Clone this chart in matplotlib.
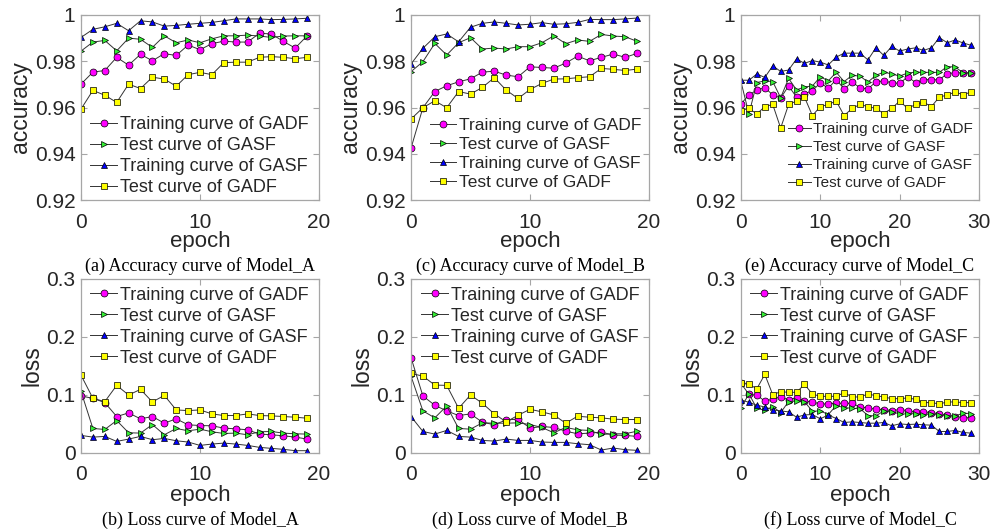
import matplotlib
matplotlib.use("Agg")
import matplotlib.pyplot as plt
import numpy as np

# ---------------- data ----------------
labels = ["Training curve of GADF", "Test curve of GASF",
          "Training curve of GASF", "Test curve of GADF"]

# Model A accuracy (20 epochs)
a_train_gadf = [0.9701,0.9753,0.9760,0.9817,0.9783,0.9830,0.9802,0.9833,0.9825,0.9870,0.9850,0.9876,0.9887,0.9883,0.9883,0.9921,0.9918,0.9886,0.9857,0.9910]
a_test_gasf = [0.9844,0.9883,0.9890,0.9845,0.9900,0.9895,0.9860,0.9910,0.9880,0.9892,0.9880,0.9897,0.9910,0.9910,0.9913,0.9909,0.9903,0.9909,0.9910,0.9910]
a_train_gasf = [0.9903,0.9938,0.9949,0.9964,0.9932,0.9975,0.9970,0.9952,0.9955,0.9960,0.9964,0.9968,0.9975,0.9983,0.9983,0.9983,0.9980,0.9981,0.9983,0.9986]
a_test_gadf = [0.9593,0.9674,0.9653,0.9622,0.9701,0.9682,0.9731,0.9723,0.9692,0.9742,0.9752,0.9742,0.9794,0.9796,0.9796,0.9817,0.9820,0.9817,0.9811,0.9817]

# Model B accuracy (20 epochs)
b_train_gadf = [0.9424,0.9599,0.9669,0.9694,0.9711,0.9724,0.9753,0.9757,0.9740,0.9733,0.9776,0.9773,0.9770,0.9792,0.9822,0.9802,0.9817,0.9831,0.9817,0.9834]
b_test_gasf = [0.9755,0.9798,0.9877,0.9827,0.9880,0.9902,0.9853,0.9857,0.9853,0.9863,0.9863,0.9880,0.9910,0.9876,0.9892,0.9886,0.9916,0.9909,0.9906,0.9886]
b_train_gasf = [0.9788,0.9856,0.9906,0.9918,0.9884,0.9947,0.9964,0.9970,0.9964,0.9957,0.9960,0.9967,0.9960,0.9962,0.9968,0.9981,0.9980,0.9980,0.9983,0.9987]
b_test_gadf = [0.9550,0.9599,0.9629,0.9599,0.9669,0.9658,0.9687,0.9729,0.9675,0.9639,0.9678,0.9704,0.9723,0.9724,0.9729,0.9733,0.9769,0.9765,0.9760,0.9766]

# Model C accuracy (30 epochs)
c_train_gadf = [0.9616,0.9654,0.9676,0.9685,0.9655,0.9641,0.9693,0.9645,0.9660,0.9672,0.9707,0.9683,0.9721,0.9680,0.9709,0.9686,0.9680,0.9711,0.9715,0.9707,0.9704,0.9733,0.9708,0.9721,0.9720,0.9720,0.9747,0.9750,0.9750,0.9750]
c_test_gasf = [0.9711,0.9572,0.9708,0.9715,0.9712,0.9642,0.9726,0.9676,0.9689,0.9693,0.9733,0.9715,0.9752,0.9712,0.9739,0.9736,0.9710,0.9739,0.9753,0.9745,0.9736,0.9749,0.9753,0.9752,0.9752,0.9752,0.9777,0.9775,0.9750,0.9750]
c_train_gasf = [0.9718,0.9718,0.9745,0.9730,0.9780,0.9756,0.9762,0.9810,0.9791,0.9803,0.9796,0.9784,0.9818,0.9835,0.9835,0.9835,0.9806,0.9858,0.9825,0.9864,0.9844,0.9853,0.9858,0.9847,0.9858,0.9902,0.9880,0.9892,0.9879,0.9869]
c_test_gadf = [0.9587,0.9596,0.9572,0.9604,0.9613,0.9511,0.9613,0.9628,0.9645,0.9565,0.9604,0.9613,0.9628,0.9565,0.9596,0.9613,0.9604,0.9596,0.9574,0.9596,0.9628,0.9596,0.9613,0.9623,0.9604,0.9645,0.9654,0.9667,0.9655,0.9667]

# Model A loss
la_train_gadf = [0.0983,0.0943,0.0869,0.0629,0.0691,0.0589,0.0629,0.0514,0.0589,0.0486,0.0474,0.0469,0.0429,0.0417,0.0400,0.0326,0.0314,0.0297,0.0274,0.0240]
la_test_gasf = [0.1063,0.0423,0.0406,0.0560,0.0349,0.0343,0.0491,0.0314,0.0423,0.0383,0.0411,0.0366,0.0337,0.0343,0.0314,0.0366,0.0371,0.0343,0.0331,0.0326]
la_train_gasf = [0.0303,0.0274,0.0286,0.0200,0.0240,0.0286,0.0229,0.0251,0.0211,0.0189,0.0131,0.0154,0.0171,0.0154,0.0131,0.0097,0.0080,0.0063,0.0040,0.0040]
la_test_gadf = [0.1343,0.0943,0.0886,0.1166,0.1000,0.1097,0.0880,0.0994,0.0743,0.0731,0.0743,0.0674,0.0646,0.0646,0.0674,0.0646,0.0640,0.0629,0.0617,0.0600]

# Model B loss
lb_train_gadf = [0.1646,0.0983,0.0823,0.0726,0.0646,0.0674,0.0531,0.0486,0.0571,0.0583,0.0429,0.0457,0.0440,0.0377,0.0331,0.0343,0.0360,0.0309,0.0303,0.0286]
lb_test_gasf = [0.1326,0.0726,0.0606,0.0811,0.0423,0.0411,0.0520,0.0514,0.0514,0.0520,0.0491,0.0440,0.0349,0.0440,0.0400,0.0389,0.0320,0.0331,0.0331,0.0377]
lb_train_gasf = [0.0629,0.0371,0.0326,0.0389,0.0286,0.0274,0.0217,0.0206,0.0240,0.0217,0.0217,0.0189,0.0183,0.0183,0.0160,0.0143,0.0051,0.0086,0.0057,0.0046]
lb_test_gadf = [0.1371,0.1326,0.1171,0.1166,0.0771,0.1000,0.0857,0.0674,0.0537,0.0651,0.0754,0.0709,0.0657,0.0514,0.0634,0.0617,0.0606,0.0583,0.0577,0.0577]

# Model C loss
lc_train_gadf = [0.1200,0.1011,0.0994,0.0897,0.0926,0.0971,0.0914,0.0954,0.0891,0.0886,0.0840,0.0851,0.0857,0.0857,0.0857,0.0794,0.0777,0.0754,0.0749,0.0731,0.0749,0.0731,0.0709,0.0709,0.0697,0.0674,0.0651,0.0629,0.0611,0.0606]
lc_test_gasf = [0.0783,0.1017,0.0771,0.0737,0.0800,0.0697,0.0886,0.0897,0.0886,0.0720,0.0726,0.0663,0.0817,0.0783,0.0771,0.0766,0.0646,0.0640,0.0726,0.0709,0.0674,0.0674,0.0680,0.0657,0.0680,0.0657,0.0646,0.0640,0.0686,0.0680]
lc_train_gasf = [0.0914,0.0874,0.0823,0.0794,0.0743,0.0726,0.0709,0.0617,0.0657,0.0663,0.0589,0.0657,0.0594,0.0526,0.0537,0.0526,0.0514,0.0514,0.0526,0.0469,0.0503,0.0491,0.0497,0.0486,0.0480,0.0371,0.0371,0.0389,0.0354,0.0343]
lc_test_gadf = [0.1211,0.1183,0.1109,0.1354,0.1006,0.1057,0.1046,0.1046,0.1183,0.1017,0.0977,0.0977,0.0977,0.1040,0.0966,0.0966,0.1017,0.0989,0.0966,0.0937,0.0937,0.0949,0.0926,0.0869,0.0869,0.0846,0.0880,0.0880,0.0869,0.0869]

acc_yticks = [0.92, 0.94, 0.96, 0.98, 1.0]
acc_yticklabels = ["0.92", "0.94", "0.96", "0.98", "1"]
loss_yticks = [0, 0.1, 0.2, 0.3]
loss_yticklabels = ["0", "0.1", "0.2", "0.3"]

captions = ["(a) Accuracy curve of Model_A", "(c) Accuracy curve of Model_B",
            "(e) Accuracy curve of Model_C", "(b) Loss curve of Model_A",
            "(d) Loss curve of Model_B", "(f) Loss curve of Model_C"]

# ---------------- style ----------------
SANS = ["Liberation Sans", "DejaVu Sans"]
SERIF = ["Liberation Serif", "DejaVu Serif"]
styles = [
    dict(marker="o", mfc="#ff00ff", ms=5.0),
    dict(marker=">", mfc="#33ee33", ms=5.0),
    dict(marker="^", mfc="#0000ff", ms=5.0),
    dict(marker="s", mfc="#ffff00", ms=4.2),
]
FRAME = "#a6a6a6"
TXT = "#262626"

W, H = 994, 532
fig = plt.figure(figsize=(W / 100, H / 100), dpi=100)

lefts = [81, 411, 741]
width = 238
acc_top, acc_bot = 15, 200
loss_top, loss_bot = 279, 453


def make_ax(left, top, bot):
    return fig.add_axes([left / W, 1 - bot / H, width / W, (bot - top) / H])


def style_ax(ax, xmax, yticks, yticklabels, ylim, ylabel):
    ax.set_xlim(0, xmax)
    ax.set_ylim(*ylim)
    ax.set_xticks(np.arange(0, xmax + 1, 10))
    ax.set_yticks(yticks)
    ax.set_yticklabels(yticklabels)
    for s in ax.spines.values():
        s.set_color(FRAME)
        s.set_linewidth(0.9)
    ax.tick_params(direction="in", length=4.5, width=0.8, color=FRAME,
                   top=True, right=True, labelsize=15, labelcolor=TXT)
    ax.tick_params(axis="x", pad=9)
    ax.tick_params(axis="y", pad=4)
    for t in ax.get_xticklabels() + ax.get_yticklabels():
        t.set_family(SANS)
    ax.set_xlabel("epoch", fontsize=16, family=SANS, color=TXT, labelpad=0)
    ax.set_ylabel(ylabel, fontsize=16.5, family=SANS, color=TXT, labelpad=2)


acc_sets = [
    (20, [a_train_gadf, a_test_gasf, a_train_gasf, a_test_gadf], 13, 0.22, (0.038, 0.452)),
    (20, [b_train_gadf, b_test_gasf, b_train_gasf, b_test_gadf], 12.5, 0.21, (0.08, 0.443)),
    (30, [c_train_gadf, c_test_gasf, c_train_gasf, c_test_gadf], 11, 0.25, (0.197, 0.419)),
]
loss_sets = [
    (20, [la_train_gadf, la_test_gasf, la_train_gasf, la_test_gadf], 13, 0.22, (0.038, 0.956)),
    (20, [lb_train_gadf, lb_test_gasf, lb_train_gasf, lb_test_gadf], 13, 0.22, (0.042, 0.956)),
    (30, [lc_train_gadf, lc_test_gasf, lc_train_gasf, lc_test_gadf], 13, 0.22, (0.038, 0.956)),
]


def draw(ax, series, fs, ls, anchor):
    for vals, st in zip(series, styles):
        x = np.arange(len(vals))
        ax.plot(x, vals, color="#333333", lw=0.7, marker=st["marker"],
                mfc=st["mfc"], mec="#000000", mew=0.5, ms=st["ms"])
    ax.legend(labels, loc="upper left", bbox_to_anchor=anchor, frameon=False,
              prop={"family": SANS, "size": fs}, handlelength=1.5,
              handletextpad=0.15, labelspacing=ls, borderpad=0,
              borderaxespad=0, numpoints=1, labelcolor=TXT)


for i, left in enumerate(lefts):
    n, series, fs, ls, anchor = acc_sets[i]
    ax = make_ax(left, acc_top, acc_bot)
    draw(ax, series, fs, ls, anchor)
    style_ax(ax, n, acc_yticks, acc_yticklabels, (0.92, 1.0), "accuracy")
    fig.text((left + width / 2) / W, 1 - 266 / H, captions[i], ha="center",
             va="center", fontsize=13, family=SERIF, color="#000000")

    n, series, fs, ls, anchor = loss_sets[i]
    ax = make_ax(left, loss_top, loss_bot)
    draw(ax, series, fs, ls, anchor)
    style_ax(ax, n, loss_yticks, loss_yticklabels, (0, 0.3), "loss")
    fig.text((left + width / 2) / W, 1 - 520 / H, captions[i + 3], ha="center",
             va="center", fontsize=13, family=SERIF, color="#000000")

fig.savefig("out.png", dpi=100)
